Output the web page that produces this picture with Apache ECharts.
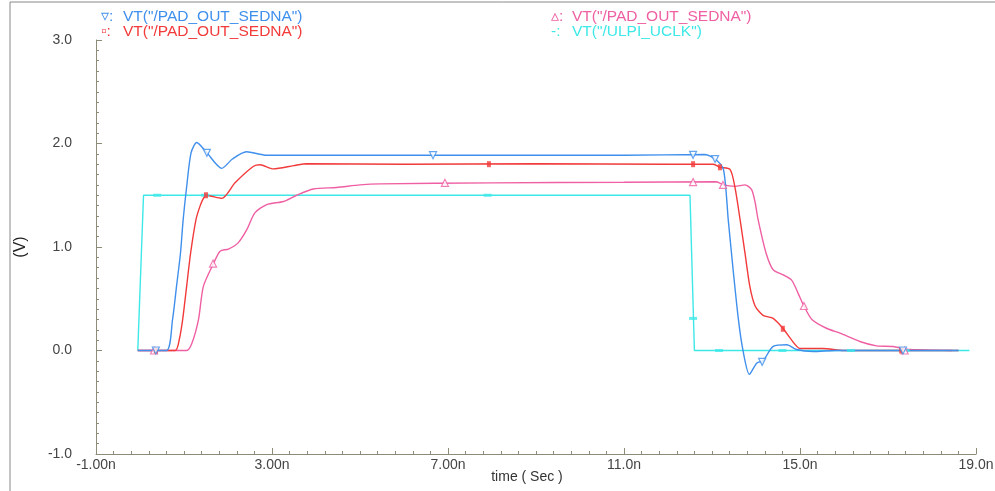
<!DOCTYPE html>
<html>
<head>
<meta charset="utf-8">
<script src="https://cdn.jsdelivr.net/npm/echarts@6/dist/echarts.min.js"></script>
<style>
html, body { margin: 0; padding: 0; background: #fff; }
#main { width: 995px; height: 491px; }
</style>
</head>
<body>
<div id="main"></div>
<script>
// tick labels
var xLabels = { '-1': '-1.00n', '3': '3.00n', '7': '7.00n', '11': '11.0n', '15': '15.0n', '19': '19.0n' };
var yLabels = { '-1': '-1.0', '0': '0.0', '1': '1.0', '2': '2.0', '3': '3.0' };

// [time ns, volts]
var blueWave = [[-0.05,0],[0.6,0],[0.74,0.3],[0.83,0.62],[0.92,0.94],[0.98,1.26],[1.06,1.58],[1.16,1.91],
    [1.29,2.01],[1.52,1.91],[1.86,1.76],[2.1,1.85],[2.42,1.92],[2.88,1.886],[5,1.886],[8,1.887],[11,1.887],
    [12.84,1.894],[13.07,1.85],[13.26,1.75],[13.37,1.26],[13.48,0.78],[13.6,0.3],[13.7,0.01],[13.85,-0.23],
    [14.02,-0.12],[14.16,-0.1],[14.39,0.04],[14.7,0.055],[14.92,0.01],[15.3,-0.01],[15.8,0],[18.6,0]];
var redWave = [[-0.05,0],[0.8,0],[0.89,0.1],[0.97,0.3],[1.06,0.62],[1.15,0.94],[1.27,1.26],[1.36,1.39],
    [1.44,1.47],[1.5,1.5],[1.86,1.47],[2.16,1.62],[2.58,1.78],[2.73,1.795],[3.03,1.755],[3.49,1.786],
    [3.79,1.805],[6,1.8],[9,1.805],[12,1.8],[13.03,1.8],[13.18,1.77],[13.41,1.75],[13.52,1.58],[13.64,1.26],
    [13.75,0.94],[13.86,0.62],[13.98,0.43],[14.16,0.34],[14.39,0.31],[14.62,0.21],[14.81,0.1],[15.0,0.02],
    [15.52,0.02],[16,0],[18.6,0]];
var pinkWave = [[-0.05,0],[1.06,0],[1.18,0.07],[1.33,0.3],[1.44,0.62],[1.67,0.84],[1.82,0.96],[2.01,0.98],
    [2.23,1.04],[2.43,1.17],[2.61,1.33],[2.88,1.41],[3.26,1.44],[3.56,1.5],[3.94,1.56],[4.47,1.575],[5.0,1.6],
    [5.46,1.61],[8,1.62],[11,1.625],[13.1,1.63],[13.26,1.6],[13.52,1.586],[13.75,1.6],[13.9,1.555],[13.98,1.43],
    [14.05,1.26],[14.23,0.94],[14.39,0.78],[14.62,0.73],[14.81,0.68],[14.96,0.55],[15.09,0.43],[15.27,0.3],
    [15.6,0.215],[15.91,0.167],[16.36,0.087],[16.74,0.045],[17.12,0.039],[17.42,0.013],[18.45,0]];
var cyanWave = [[-0.05,0],[-0.02,0],[0.08,1.5],[12.5,1.5],[12.6,0],[18.85,0]];

// marker positions along each trace
var blueMarks = [[0.36,0],[1.52,1.91],[6.66,1.887],[12.57,1.89],[13.07,1.85],[14.14,-0.11],[17.34,0]];
var redMarks = [[0.36,0],[1.5,1.5],[7.93,1.8],[12.57,1.8],[13.18,1.77],[14.61,0.21],[17.3,0]];
var pinkMarks = [[0.32,0],[1.66,0.84],[6.93,1.62],[12.57,1.627],[13.25,1.6],[15.09,0.43],[17.38,0]];
var cyanMarks = [[0.39,1.5],[1.48,1.5],[7.9,1.5],[12.57,0.31],[13.16,0],[14.6,0],[16.16,0],[17.4,0]];

// legend entries: [marker, label, colour]
var legendLeft = [['▿:', 'VT("/PAD_OUT_SEDNA")', '#3f8fec'], ['▫:', 'VT("/PAD_OUT_SEDNA")', '#f23a3a']];
var legendRight = [['▵:', 'VT("/PAD_OUT_SEDNA")', '#ef5fa3'], ['-:', 'VT("/ULPI_UCLK")', '#3ee8e8']];

var BLUE = '#3f8fec', RED = '#f23a3a', PINK = '#ef5fa3', CYAN = '#3ee8e8';
var FONT = 'Liberation Sans';
var LEGEND_FONT = '15.5px "Liberation Sans"';

function trace(data, color) {
    return { type: 'line', data: data, showSymbol: false, smooth: 0.25, animation: false,
        lineStyle: { color: color, width: 1.4 } };
}
function marks(data, symbol, size, rotate, color, hollow) {
    return { type: 'scatter', data: data, symbol: symbol, symbolSize: size, symbolRotate: rotate,
        animation: false, z: 3,
        itemStyle: hollow ? { color: '#fff', borderColor: color, borderWidth: 1.2 } : { color: color } };
}

var cyanLine = trace(cyanWave, CYAN);
cyanLine.smooth = false;

var graphics = [
    { type: 'line', shape: { x1: 10, y1: 2, x2: 995, y2: 2 }, style: { stroke: '#888', lineWidth: 1 } },
    { type: 'line', shape: { x1: 10, y1: 2, x2: 10, y2: 491 }, style: { stroke: '#888', lineWidth: 1 } }
];
function addLegend(items, markX, textX) {
    for (var i = 0; i < items.length; i++) {
        var top = 9 + i * 15;
        graphics.push({ type: 'text', left: markX, top: top, style: { text: items[i][0], fill: items[i][2], font: LEGEND_FONT } });
        graphics.push({ type: 'text', left: textX, top: top, style: { text: items[i][1], fill: items[i][2], font: LEGEND_FONT } });
    }
}
addLegend(legendLeft, 101, 123);
addLegend(legendRight, 551, 572);

var option = {
    backgroundColor: '#fff',
    grid: { left: 96, right: 19, top: 40, bottom: 37, outerBoundsMode: 'none', containLabel: false },
    xAxis: {
        type: 'value', min: -1, max: 19, interval: 4,
        name: 'time ( Sec )', nameLocation: 'middle', nameGap: 16, nameMoveOverlap: false,
        nameTextStyle: { color: '#333', fontFamily: FONT, fontSize: 14, padding: [0, 18, 0, 0] },
        axisLine: { onZero: false, lineStyle: { color: '#8c8c78' } },
        axisTick: { inside: true, length: 6, lineStyle: { color: '#8c8c78' } },
        minorTick: { show: true, splitNumber: 10, length: 3, lineStyle: { color: '#8c8c78' } },
        splitLine: { show: false },
        axisLabel: { color: '#444', fontFamily: FONT, fontSize: 14, margin: 4,
            formatter: function (v) { return xLabels[String(v)] || ''; } }
    },
    yAxis: {
        type: 'value', min: -1, max: 3, interval: 1,
        name: '(V)', nameLocation: 'middle', nameGap: 67, nameRotate: 90,
        nameTextStyle: { color: '#222', fontFamily: FONT, fontSize: 16 },
        axisLine: { show: true, onZero: false, lineStyle: { color: '#8c8c78' } },
        axisTick: { show: true, inside: true, length: 6, lineStyle: { color: '#8c8c78' } },
        minorTick: { show: true, splitNumber: 10, length: 3, lineStyle: { color: '#8c8c78' } },
        splitLine: { show: false },
        axisLabel: { color: '#444', fontFamily: FONT, fontSize: 14, margin: 24,
            formatter: function (v) { return yLabels[String(v)] || ''; } }
    },
    graphic: graphics,
    series: [
        cyanLine,
        trace(pinkWave, PINK),
        trace(redWave, RED),
        trace(blueWave, BLUE),
        marks(cyanMarks, 'rect', [8, 3], 0, CYAN, false),
        marks(pinkMarks, 'triangle', 7, 0, PINK, true),
        marks(redMarks, 'rect', [4, 6], 0, RED, false),
        marks(blueMarks, 'triangle', 7, 180, BLUE, true)
    ]
};

var chart = echarts.init(document.getElementById('main'));
chart.setOption(option);
</script>
</body>
</html>
